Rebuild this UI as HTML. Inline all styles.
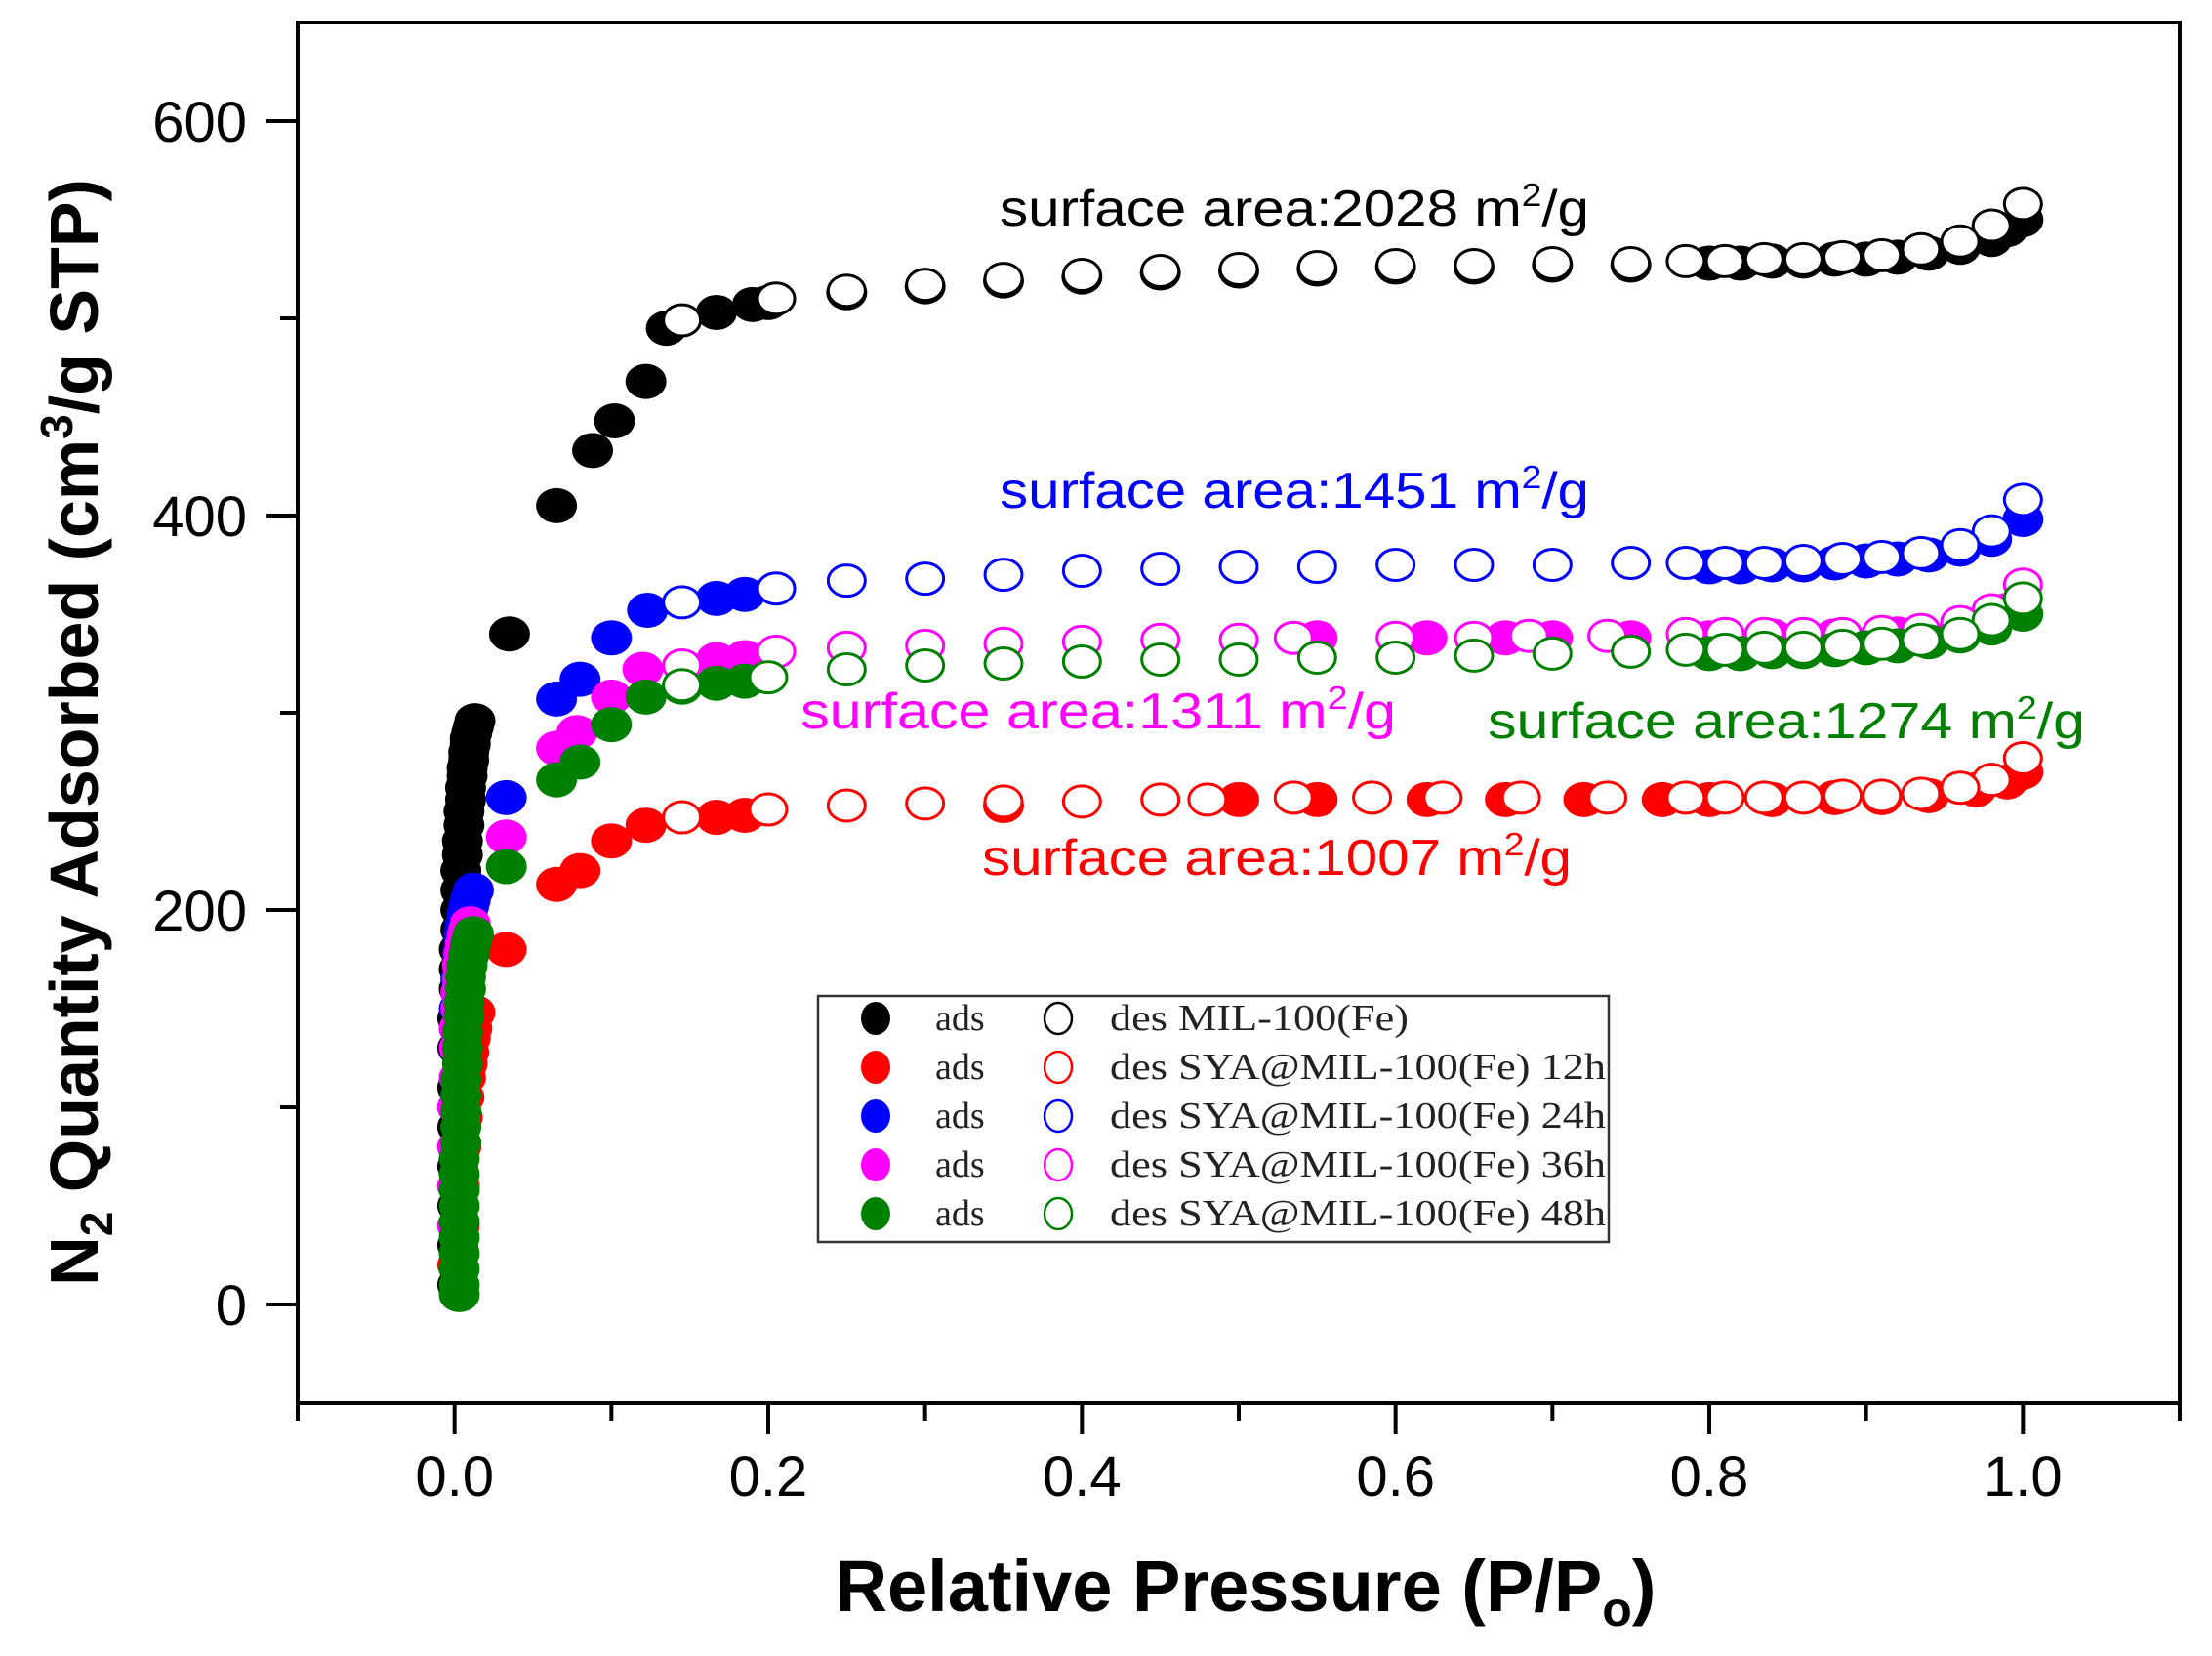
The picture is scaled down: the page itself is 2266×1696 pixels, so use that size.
<!DOCTYPE html>
<html><head><meta charset="utf-8"><style>
html,body{margin:0;padding:0;background:#fff;}
svg{display:block;}
</style></head><body>
<svg id="chart" width="2266" height="1696" viewBox="0 0 2266 1696" xmlns="http://www.w3.org/2000/svg">
<rect width="2266" height="1696" fill="#fff"/>
<g id="marks"></g>
<g id="axes"></g>
<g font-family="Liberation Sans, sans-serif" font-size="52">
<text x="1024" y="231" fill="#000" textLength="604" lengthAdjust="spacingAndGlyphs">surface area:2028 m<tspan dy="-20" font-size="33">2</tspan><tspan dy="20">/g</tspan></text>
<text x="1024" y="520" fill="#0000ff" textLength="604" lengthAdjust="spacingAndGlyphs">surface area:1451 m<tspan dy="-20" font-size="33">2</tspan><tspan dy="20">/g</tspan></text>
<text x="820" y="746" fill="#ff00ff" textLength="610" lengthAdjust="spacingAndGlyphs">surface area:1311 m<tspan dy="-20" font-size="33">2</tspan><tspan dy="20">/g</tspan></text>
<text x="1524" y="756" fill="#008000" textLength="612" lengthAdjust="spacingAndGlyphs">surface area:1274 m<tspan dy="-20" font-size="33">2</tspan><tspan dy="20">/g</tspan></text>
<text x="1006" y="896" fill="#ff0000" textLength="604" lengthAdjust="spacingAndGlyphs">surface area:1007 m<tspan dy="-20" font-size="33">2</tspan><tspan dy="20">/g</tspan></text>
</g>
<g>
<rect x="838" y="1020" width="810" height="252" fill="#fff" stroke="#333" stroke-width="2.5"/>
<g id="legendRows"></g>
</g>
<text x="1276" y="1650" text-anchor="middle" font-family="Liberation Sans, sans-serif" font-weight="bold" font-size="74">Relative Pressure (P/P<tspan dy="15" font-size="50">o</tspan><tspan dy="-15">)</tspan></text>
<text transform="translate(100,750) rotate(-90)" text-anchor="middle" font-family="Liberation Sans, sans-serif" font-weight="bold" font-size="70">N<tspan dy="15" font-size="46">2</tspan><tspan dy="-15"> Quantity Adsorbed (cm</tspan><tspan dy="-26" font-size="46">3</tspan><tspan dy="26">/g STP)</tspan></text>
</svg>
<script>
const xTicks = [0.0, 0.2, 0.4, 0.6, 0.8, 1.0];
const xTickLabels = ["0.0", "0.2", "0.4", "0.6", "0.8", "1.0"];
const yTicks = [0, 200, 400, 600];
const yTickLabels = ["0", "200", "400", "600"];
const seriesNames = ["MIL-100(Fe)", "SYA@MIL-100(Fe) 12h", "SYA@MIL-100(Fe) 24h", "SYA@MIL-100(Fe) 36h", "SYA@MIL-100(Fe) 48h"];
const seriesColors = ["#000000", "#ff0000", "#0000ff", "#ff00ff", "#008000"];

const adsBlack = [[0.002,10],[0.002,30],[0.002,50],[0.002,70],[0.002,90],[0.002,110],[0.002,130],[0.002,145],[0.003,160],[0.003,170],[0.003,180],[0.004,190],[0.004,200],[0.004,210],[0.004,220],[0.005,228],[0.005,235],[0.006,243],[0.006,250],[0.007,256],[0.007,262],[0.008,268],[0.008,272],[0.009,276],[0.009,280],[0.010,284],[0.010,287],[0.011,290],[0.012,293],[0.013,296],[0.035,340],[0.065,405],[0.088,433],[0.102,448],[0.122,468],[0.135,495],[0.167,503],[0.19,507],[0.2,508],[0.25,513],[0.3,516],[0.35,519],[0.4,521],[0.45,523],[0.5,524],[0.55,525],[0.6,526],[0.65,526],[0.7,527],[0.75,527],[0.8,528],[0.82,528],[0.84,529],[0.86,529],[0.88,530],[0.9,530],[0.92,531],[0.94,533],[0.96,536],[0.98,540],[0.99,545],[1.0,550]];
const desBlack = [[1.0,558],[0.98,547],[0.96,539],[0.935,535],[0.91,532],[0.885,531],[0.86,530],[0.835,530],[0.81,529],[0.785,529],[0.75,528],[0.7,528],[0.65,527],[0.6,527],[0.55,526],[0.5,525],[0.45,524],[0.4,522],[0.35,520],[0.3,517],[0.25,514],[0.205,510],[0.145,499]];
const adsRed = [[0.002,20],[0.003,40],[0.003,60],[0.004,80],[0.005,95],[0.006,105],[0.007,115],[0.008,122],[0.009,128],[0.010,135],[0.011,140],[0.013,148],[0.033,180],[0.065,213],[0.08,220],[0.1,235],[0.122,243],[0.167,247],[0.185,248],[0.35,253],[0.5,256],[0.55,256],[0.62,256],[0.67,256],[0.72,256],[0.77,256],[0.8,256],[0.84,256],[0.88,257],[0.91,257],[0.94,258],[0.97,261],[0.99,265],[1.0,270]];
const desRed = [[1.0,277],[0.98,266],[0.96,262],[0.935,259],[0.91,258],[0.885,258],[0.86,257],[0.835,257],[0.81,257],[0.785,257],[0.735,257],[0.68,257],[0.63,257],[0.585,257],[0.535,257],[0.48,256],[0.45,256],[0.4,255],[0.35,255],[0.3,254],[0.25,253],[0.2,251],[0.145,247]];
const adsBlue = [[0.002,40],[0.002,60],[0.002,80],[0.002,100],[0.003,115],[0.003,130],[0.003,140],[0.003,150],[0.004,158],[0.004,165],[0.005,172],[0.005,178],[0.006,184],[0.006,188],[0.007,193],[0.008,198],[0.009,202],[0.010,205],[0.012,210],[0.033,257],[0.065,307],[0.08,317],[0.1,338],[0.123,352],[0.167,358],[0.185,360],[0.8,374],[0.82,374],[0.84,375],[0.86,375],[0.88,376],[0.9,377],[0.92,378],[0.94,380],[0.96,383],[0.98,388],[1.0,398]];
const desBlue = [[1.0,408],[0.98,392],[0.96,385],[0.935,381],[0.91,379],[0.885,378],[0.86,377],[0.835,376],[0.81,376],[0.785,376],[0.75,376],[0.7,375],[0.65,375],[0.6,375],[0.55,374],[0.5,374],[0.45,373],[0.4,372],[0.35,370],[0.3,368],[0.25,367],[0.205,363],[0.145,356]];
const adsMagenta = [[0.002,40],[0.002,60],[0.002,80],[0.002,100],[0.003,115],[0.003,130],[0.003,140],[0.004,150],[0.004,158],[0.005,165],[0.005,172],[0.006,178],[0.007,183],[0.008,187],[0.009,190],[0.010,193],[0.033,237],[0.065,282],[0.078,290],[0.1,308],[0.12,322],[0.167,327],[0.185,328],[0.55,338],[0.62,338],[0.67,338],[0.7,338],[0.75,338],[0.8,338],[0.84,339],[0.88,339],[0.92,340],[0.96,344],[0.99,352]];
const desMagenta = [[1.0,365],[0.98,352],[0.96,346],[0.935,342],[0.91,341],[0.885,340],[0.86,340],[0.835,340],[0.81,340],[0.785,340],[0.735,339],[0.685,339],[0.65,338],[0.6,338],[0.535,338],[0.5,337],[0.45,337],[0.4,336],[0.35,335],[0.3,334],[0.25,333],[0.205,331],[0.145,324]];
const adsGreen = [[0.003,5],[0.003,10],[0.003,18],[0.003,26],[0.003,34],[0.003,42],[0.003,50],[0.003,58],[0.003,66],[0.003,74],[0.004,82],[0.004,90],[0.004,98],[0.004,106],[0.004,114],[0.005,122],[0.005,130],[0.005,138],[0.006,146],[0.006,153],[0.007,160],[0.007,166],[0.008,172],[0.009,177],[0.010,182],[0.011,185],[0.012,188],[0.033,222],[0.065,266],[0.08,275],[0.1,294],[0.122,308],[0.145,313],[0.167,315],[0.185,316],[0.8,330],[0.82,330],[0.84,331],[0.86,331],[0.88,332],[0.9,333],[0.92,334],[0.94,336],[0.96,339],[0.98,343],[1.0,350]];
const desGreen = [[1.0,358],[0.98,347],[0.96,340],[0.935,337],[0.91,335],[0.885,334],[0.86,333],[0.835,333],[0.81,332],[0.785,332],[0.75,331],[0.7,330],[0.65,329],[0.6,328],[0.55,328],[0.5,327],[0.45,327],[0.4,326],[0.35,325],[0.3,324],[0.25,322],[0.2,318],[0.145,314]];

const NS = "http://www.w3.org/2000/svg";
const X0 = 305, X1 = 2233, Y0 = 1437, Y1 = 23;
const xMin = -0.1, xMax = 1.1, yMin = -50, yMax = 650;
function xs(v){ return X0 + (v - xMin) / (xMax - xMin) * (X1 - X0); }
function ys(v){ return Y0 - (v - yMin) / (yMax - yMin) * (Y0 - Y1); }
function mk(tag, attrs){ const e = document.createElementNS(NS, tag); for (const k in attrs) e.setAttribute(k, attrs[k]); return e; }

const marks = document.getElementById('marks');
const allAds = [adsBlack, adsRed, adsBlue, adsMagenta, adsGreen];
const allDes = [desBlack, desRed, desBlue, desMagenta, desGreen];
const ids = ["black","red","blue","magenta","green"];
for (let s = 0; s < 5; s++) {
  const g = mk('g', {});
  
  
  allAds[s].forEach(function(d){
    const c = mk('ellipse', {cx: xs(d[0]), cy: ys(d[1]), rx: 21, ry: 18, fill: seriesColors[s]});
    
    
    g.appendChild(c);
  });
  allDes[s].forEach(function(d){
    const c = mk('ellipse', {cx: xs(d[0]), cy: ys(d[1]), rx: 19, ry: 16, fill: '#fff', stroke: seriesColors[s], 'stroke-width': 3});
    
    
    g.appendChild(c);
  });
  marks.appendChild(g);
}

const axes = document.getElementById('axes');
const frame = mk('rect', {x: X0, y: Y1, width: X1 - X0, height: Y0 - Y1, fill: 'none', stroke: '#000', 'stroke-width': 4});


axes.appendChild(frame);
for (let v = -0.1; v <= 1.101; v += 0.1) {
  const major = xTicks.some(t => Math.abs(t - v) < 1e-6);
  const t = mk('line', {x1: xs(v), x2: xs(v), y1: Y0, y2: Y0 + (major ? 32 : 18), stroke: '#000', 'stroke-width': 4});
  
  
  axes.appendChild(t);
}
xTicks.forEach(function(v, i){
  const t = mk('text', {x: xs(v), y: 1532, 'text-anchor': 'middle', 'font-family': 'Liberation Sans, sans-serif', 'font-size': 58});
  t.textContent = xTickLabels[i];
  
  
  axes.appendChild(t);
});
for (let v = 0; v <= 600; v += 100) {
  const major = yTicks.indexOf(v) >= 0;
  const t = mk('line', {x1: X0 - (major ? 32 : 18), x2: X0, y1: ys(v), y2: ys(v), stroke: '#000', 'stroke-width': 4});
  
  
  axes.appendChild(t);
}
yTicks.forEach(function(v, i){
  const t = mk('text', {x: 253, y: ys(v) + 21, 'text-anchor': 'end', 'font-family': 'Liberation Sans, sans-serif', 'font-size': 58});
  t.textContent = yTickLabels[i];
  
  
  axes.appendChild(t);
});

const lr = document.getElementById('legendRows');
seriesNames.forEach(function(n, i){
  const y = 1043 + i * 50;
  const a = mk('ellipse', {cx: 897, cy: y, rx: 15, ry: 17, fill: seriesColors[i]});
  
  
  lr.appendChild(a);
  const t1 = mk('text', {x: 958, y: y + 12, 'font-family': 'Liberation Serif, serif', 'font-size': 38, fill: '#222'});
  t1.textContent = 'ads';
  
  
  lr.appendChild(t1);
  const b = mk('ellipse', {cx: 1084, cy: y, rx: 14, ry: 16, fill: '#fff', stroke: seriesColors[i], 'stroke-width': 2.5});
  
  
  lr.appendChild(b);
  const t2 = mk('text', {x: 1137, y: y + 12, 'font-family': 'Liberation Serif, serif', 'font-size': 38, fill: '#222', lengthAdjust: 'spacingAndGlyphs'});
  t2.textContent = 'des ' + n;
  t2.setAttribute('textLength', i > 0 ? 508 : 306);
  
  
  lr.appendChild(t2);
});
</script>
</body></html>
